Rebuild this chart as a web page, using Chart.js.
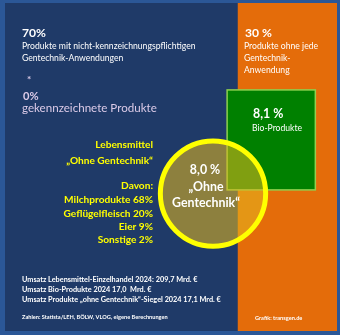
<!DOCTYPE html>
<html>
<head>
<meta charset="utf-8">
<script src="https://cdn.jsdelivr.net/npm/chart.js@4.4.1/dist/chart.umd.min.js"></script>
<style>
  html, body { margin: 0; padding: 0; background: #2b5797; }
  canvas { display: block; }
</style>
</head>
<body>
<canvas id="cv" width="340" height="335"></canvas>
<script>
// --- data ---
const splitLabels  = ['Produkte mit nicht-kennzeichnungspflichtigen Gentechnik-Anwendungen', 'Produkte ohne jede Gentechnik-Anwendung'];
const splitShares  = [70, 30];
const labelledShare = 0;
const bioShare     = 8.1;
const ogtShare     = 8.0;
const ogtCategories = ['Milchprodukte', 'Geflügelfleisch', 'Eier', 'Sonstige'];
const ogtCatShares  = [68, 20, 9, 2];
const revenueLabels = ['Umsatz Lebensmittel-Einzelhandel 2024:', 'Umsatz Bio-Produkte 2024', 'Umsatz Produkte \u201Eohne Gentechnik\u201C-Siegel 2024'];
const revenueValues = [209.7, 17.0, 17.1];

// --- layout (in % of the panel) ---
const circlePos = { x: 62.65, y: 58.1 };
const bioPos    = { left: 66.9, top: 26.5, aspect: 1.133 };

const NAVY = '#1f3a68', ORANGE = '#e46c0a', GREEN = '#008000', YELLOW = '#ffff00', LAV = '#dccbe8';
const FONT = 'Lato, "Open Sans", sans-serif';
const fmt = v => v.toFixed(1).replace('.', ',');

function panelArea(chart) {
  const a = chart.chartArea;
  return (a.right - a.left) * (a.bottom - a.top);
}

// green Bio box, drawn just before the circle
const bioBox = {
  id: 'bioBox',
  beforeDatasetDraw(chart, args) {
    if (args.meta.type !== 'bubble') return;
    const ctx = chart.ctx;
    const w = Math.sqrt(bioShare / 100 * panelArea(chart) / bioPos.aspect);
    const h = w * bioPos.aspect;
    const x0 = chart.scales.x2.getPixelForValue(bioPos.left);
    const y0 = chart.scales.y2.getPixelForValue(bioPos.top);
    ctx.save();
    ctx.fillStyle = GREEN;
    ctx.fillRect(x0, y0, w, h);
    ctx.strokeStyle = '#8fd14f';
    ctx.lineWidth = 1.5;
    ctx.strokeRect(x0, y0, w, h);
    ctx.restore();
  }
};

// text items: t, x, y, align, bold, color, w (fit width) or like (same size as id)
const texts = [
  { id: 'p70', t: splitShares[0] + '%', x: 22, y: 33, bold: true, w: 24 },
  { id: 'd1', t: 'Produkte mit nicht-kennzeichnungspflichtigen', x: 22, y: 46, w: 174 },
  { t: 'Gentechnik-Anwendungen', x: 22, y: 58, like: 'd1' },
  { t: '*', x: 27, y: 80, bold: true, color: LAV, size: 10 },
  { t: labelledShare + '%', x: 23, y: 96, bold: true, color: LAV, like: 'p70', scale: 0.92 },
  { t: 'gekennzeichnete Produkte', x: 22, y: 108, color: LAV, w: 135 },
  { t: splitShares[1] + ' %', x: 245, y: 33, bold: true, like: 'p70' },
  { t: 'Produkte ohne jede', x: 244, y: 46, like: 'd1' },
  { t: 'Gentechnik-', x: 244, y: 58, like: 'd1' },
  { t: 'Anwendung', x: 244, y: 70, like: 'd1' },
  { t: fmt(bioShare) + ' %', x: 253, y: 114, bold: true, like: 'cg' },
  { t: 'Bio-Produkte', x: 252, y: 128, w: 50 },
  { t: 'Lebensmittel', x: 153, y: 145, align: 'right', bold: true, color: YELLOW, like: 'ym' },
  { t: '\u201EOhne Gentechnik\u201C', x: 153, y: 161, align: 'right', bold: true, color: YELLOW, like: 'ym' },
  { t: 'Davon:', x: 153, y: 186, align: 'right', bold: true, color: YELLOW, like: 'ym' },
  { t: fmt(ogtShare) + ' %', x: 205, y: 170, align: 'center', bold: true, like: 'cg' },
  { t: '\u201EOhne', x: 206, y: 187, align: 'center', bold: true, like: 'cg' },
  { id: 'cg', t: 'Gentechnik\u201C', x: 206, y: 203, align: 'center', bold: true, w: 68 },
  { id: 'b1', t: revenueLabels[0] + ' ' + fmt(revenueValues[0]) + ' Mrd. \u20AC', x: 22, y: 280, bold: true, w: 176 },
  { t: revenueLabels[1] + ' ' + fmt(revenueValues[1]) + '  Mrd. \u20AC', x: 22, y: 290, bold: true, like: 'b1' },
  { t: revenueLabels[2] + ' ' + fmt(revenueValues[2]) + ' Mrd. \u20AC', x: 22, y: 300, bold: true, like: 'b1' },
  { id: 'z', t: 'Zahlen: Statista/LEH, B\u00D6LW, VLOG, eigene Berechnungen', x: 22, y: 317, bold: true, w: 146 },
  { t: 'Grafik: transgen.de', x: 255, y: 318, bold: true, like: 'z' }
];
ogtCategories.forEach((c, i) => {
  texts.push({ id: i === 0 ? 'ym' : undefined, t: c + ' ' + ogtCatShares[i] + '%', x: 153, y: 200 + i * 13.3,
    align: 'right', bold: true, color: YELLOW, w: i === 0 ? 89 : undefined, like: i === 0 ? undefined : 'ym' });
});

const textLayer = {
  id: 'textLayer',
  afterDatasetsDraw(chart) {
    const ctx = chart.ctx;
    const sizes = {};
    const fontOf = (o, s) => (o.bold ? 'bold ' : '') + s + 'px ' + FONT;
    texts.forEach(o => {
      if (o.w) {
        ctx.font = fontOf(o, 10);
        sizes[o.id || o.t] = 10 * o.w / ctx.measureText(o.t).width;
      }
    });
    ctx.save();
    ctx.textBaseline = 'middle';
    texts.forEach(o => {
      let s = o.size || (o.w ? sizes[o.id || o.t] : sizes[o.like]);
      if (o.scale) s *= o.scale;
      ctx.font = fontOf(o, s);
      ctx.fillStyle = o.color || '#ffffff';
      ctx.textAlign = o.align || 'left';
      ctx.fillText(o.t, o.x, o.y);
    });
    ctx.restore();
  }
};

const barStyle = { barPercentage: 1, categoryPercentage: 1, borderWidth: 0, grouped: false, stack: 'split',
  xAxisID: 'x', yAxisID: 'y', order: 1 };

const chart = new Chart(document.getElementById('cv'), {
  type: 'bar',
  data: {
    labels: ['Lebensmittel'],
    datasets: [
      Object.assign({ label: splitLabels[0], data: [splitShares[0]], backgroundColor: NAVY }, barStyle),
      Object.assign({ label: splitLabels[1], data: [splitShares[1]], backgroundColor: ORANGE }, barStyle),
      { type: 'bubble', label: 'Ohne Gentechnik', data: [{ x: circlePos.x, y: circlePos.y }],
        xAxisID: 'x2', yAxisID: 'y2', order: 0,
        backgroundColor: 'rgba(228,184,30,0.56)', borderColor: YELLOW, borderWidth: 5 }
    ]
  },
  options: {
    indexAxis: 'y',
    responsive: false,
    animation: false,
    events: [],
    layout: { padding: { left: 5, right: 3, top: 3, bottom: 4 }, autoPadding: false },
    plugins: { legend: { display: false }, tooltip: { enabled: false } },
    scales: {
      x:  { type: 'linear', min: 0, max: 100, stacked: true, offset: false, display: false },
      y:  { type: 'category', min: 0, max: 0, stacked: true, offset: true, display: false },
      x2: { type: 'linear', min: 0, max: 100, offset: false, display: false },
      y2: { type: 'linear', min: 0, max: 100, reverse: true, offset: false, display: false }
    }
  },
  plugins: [bioBox, textLayer]
});

// circle area proportional to its share of the panel
chart.data.datasets[2].data[0].r = Math.sqrt(ogtShare / 100 * panelArea(chart) / Math.PI);
chart.update();
</script>
</body>
</html>
